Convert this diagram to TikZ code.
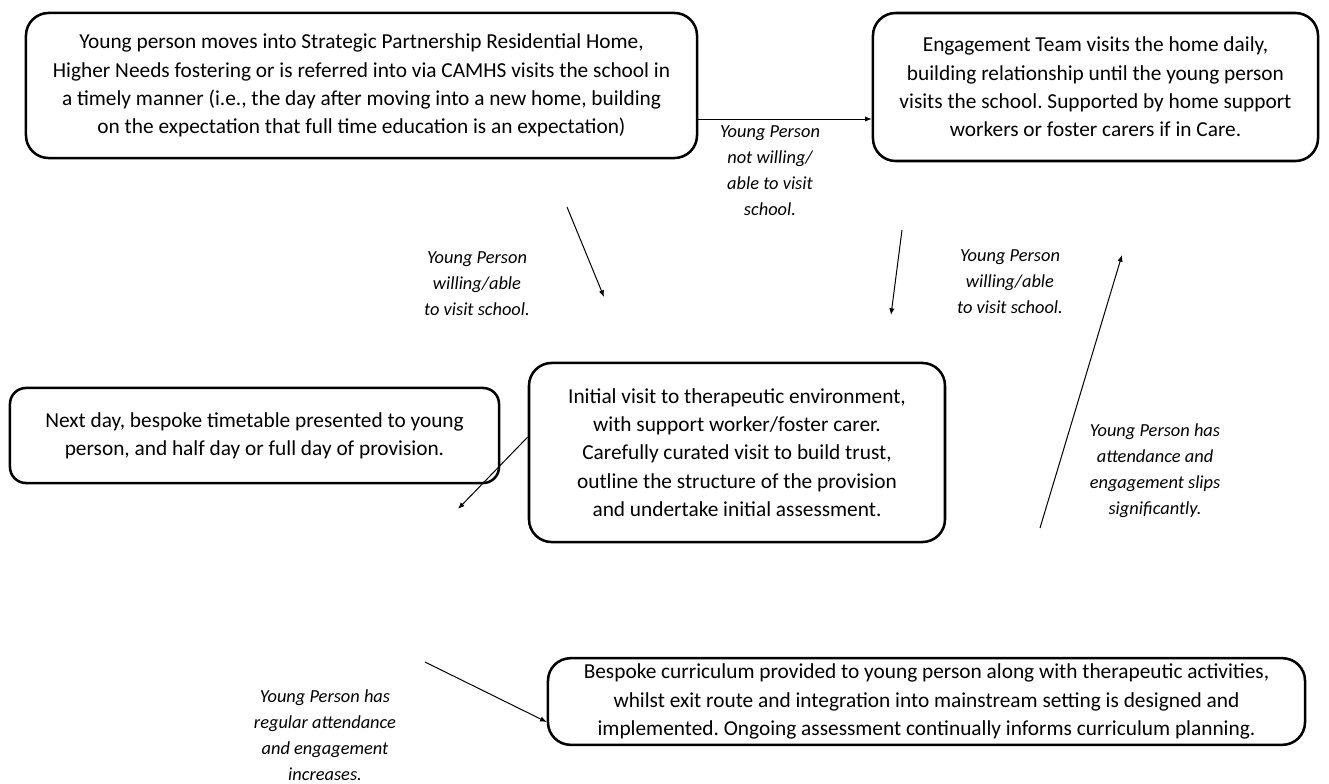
\documentclass[tikz,border=0pt]{standalone}
\usepackage{fontspec}
\setmainfont{Carlito}
\usepackage{tikz}
\usetikzlibrary{arrows.meta,positioning,calc}
\definecolor{pathdark}{RGB}{0,0,0}
\frenchspacing
\tikzset{
  path box/.style={
    draw=pathdark,
    rounded corners=17pt,
    line width=1.9pt,
    inner sep=0pt,
    align=center,
    font=\fontsize{16}{21.2}\selectfont,
  },
  path note/.style={
    inner sep=0pt,
    align=center,
    font=\fontsize{13.8}{19.5}\selectfont\itshape,
  },
  path arrow/.style={
    -{Latex[length=5pt,width=4pt]},
    line width=0.75pt,
    draw=pathdark,
  },
}

\begin{document}
\begin{tikzpicture}[x=0.75pt,y=-0.75pt]
  \useasboundingbox (0,0) rectangle (1329,783);
  \node[path box, minimum width=503.3pt, minimum height=108.8pt] (move) at (361.5,85.5)
    {Young person moves into Strategic Partnership Residential Home,\\Higher Needs fostering or is referred into via CAMHS visits the school in\\a timely manner (i.e., the day after moving into a new home, building\\on the expectation that full time education is an expectation)};
  \node[path box, minimum width=333.8pt, minimum height=111pt] (team) at (1095.5,87)
    {Engagement Team visits the home daily,\\building relationship until the young person\\visits the school. Supported by home support\\workers or foster carers if in Care.};
  \node[path box, rounded corners=12pt, minimum width=366.8pt, minimum height=71.3pt] (nextday) at (254.5,435.5)
    {Next day, bespoke timetable presented to young\\person, and half day or full day of provision.};
  \node[path box, minimum width=312pt, minimum height=134.3pt] (visit) at (737,452.5)
    {Initial visit to therapeutic environment,\\with support worker/foster carer.\\Carefully curated visit to build trust,\\outline the structure of the provision\\and undertake initial assessment.};
  \node[path box, minimum width=567.8pt, minimum height=65pt] (curric) at (926.5,701.5)
    {Bespoke curriculum provided to young person along with therapeutic activities,\\whilst exit route and integration into mainstream setting is designed and\\implemented. Ongoing assessment continually informs curriculum planning.};

  % labels
  \node[path note] (notwilling) at (770,171) {Young Person\\not willing/\\able to visit\\school.};
  \node[path note] (willingl) at (477,284) {Young Person\\willing/able\\to visit school.};
  \node[path note] (willingr) at (1010,282) {Young Person\\willing/able\\to visit school.};
  \node[path note] (slips) at (1155,471) {Young Person has\\attendance and\\engagement slips\\significantly.};
  \node[path note] (regular) at (325,735) {Young Person has\\regular attendance\\and engagement\\increases.};

  % loose arrow ends
  \coordinate (ltop) at (567,207);
  \coordinate (lend) at (604,297);
  \coordinate (rtop) at (902,230);
  \coordinate (rend) at (891,315);
  \coordinate (upbot) at (1040,528);
  \coordinate (uptop) at (1122,255);
  \coordinate (nextend) at (458,509);
  \coordinate (regstart) at (425,662);

  \draw[path arrow] (move.east |- 0,119) -- (team.west |- 0,119);
  \draw[path arrow] (ltop) -- (lend);
  \draw[path arrow] (rtop) -- (rend);
  \draw[path arrow] (upbot) -- (uptop);
  \draw[path arrow] (visit.west |- 0,437) -- (nextend);
  \draw[path arrow] (regstart) -- (curric.west |- 0,722);
\end{tikzpicture}
\end{document}
